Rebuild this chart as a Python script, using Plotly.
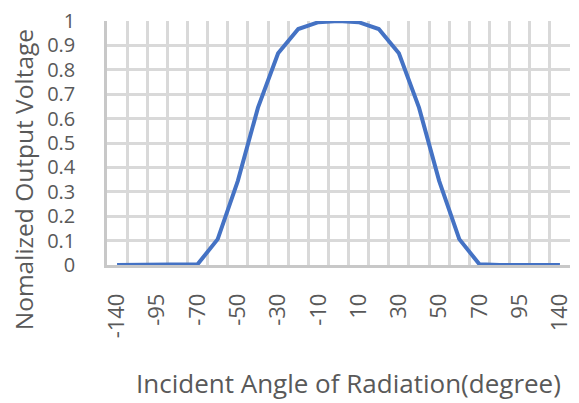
import plotly.graph_objects as go

angles = [-140, -120, -95, -80, -70, -60, -50, -40, -30, -20, -10, 0,
          10, 20, 30, 40, 50, 60, 70, 80, 95, 120, 140]
voltage = [0.0, 0.0, 0.0, 0.0, 0.003, 0.106, 0.345, 0.645, 0.868, 0.967, 0.995, 1.0,
           0.995, 0.967, 0.868, 0.645, 0.345, 0.106, 0.003, 0.0, 0.0, 0.0, 0.0]
label_step = 2
y_ticks = [0, 0.1, 0.2, 0.3, 0.4, 0.5, 0.6, 0.7, 0.8, 0.9, 1]
y_tick_text = ["0", "0.1", "0.2", "0.3", "0.4", "0.5", "0.6", "0.7", "0.8", "0.9", "1"]
x_title = "Incident Angle of Radiation(degree)"
y_title = "Nomalized Output Voltage"

idx = list(range(len(angles)))
n = len(angles)

FONT = "Open Sans"
TXT = "#595959"
GRID = "#d9d9d9"

fig = go.Figure()
fig.add_trace(go.Scatter(
    x=idx, y=voltage, mode="lines",
    line=dict(color="#4472C4", width=4),
    showlegend=False,
))

fig.add_annotation(
    text=y_title, xref="paper", yref="paper",
    x=-0.18, y=0.35, xanchor="center", yanchor="middle",
    textangle=-90, showarrow=False,
    font=dict(family=FONT, size=24.5, color=TXT),
)
fig.add_annotation(
    text=x_title, xref="paper", yref="paper",
    x=0.522, y=-0.485, xanchor="center", yanchor="middle",
    showarrow=False,
    font=dict(family=FONT, size=26, color=TXT),
)

fig.update_layout(
    width=571, height=395,
    margin=dict(l=99, r=9, t=13, b=138, autoexpand=False),
    paper_bgcolor="white", plot_bgcolor="white",
    font=dict(family=FONT, color=TXT),
    xaxis=dict(
        range=[-0.5, n - 0.5],
        tickmode="array",
        tickvals=idx[::label_step],
        ticktext=[str(a) for a in angles[::label_step]],
        tickangle=-90,
        tickfont=dict(size=22, color=TXT),
        showgrid=False,
        zeroline=False,
        showline=True, linecolor="#c8c8c8", linewidth=2.5,
        ticks="outside", ticklen=17, tickcolor="rgba(0,0,0,0)",
        minor=dict(tickmode="array", tickvals=[i - 0.5 for i in range(n + 1)],
                   showgrid=True, gridcolor=GRID, gridwidth=2.5),
        automargin=False,
        fixedrange=True,
    ),
    yaxis=dict(
        range=[0, 1],
        tickmode="array",
        tickvals=y_ticks,
        ticktext=y_tick_text,
        tickfont=dict(size=20, color=TXT),
        ticklabeloverflow="allow",
        showgrid=True, gridcolor=GRID, gridwidth=2.5,
        zeroline=False,
        showline=True, linecolor="#c8c8c8", linewidth=2.5,
        ticks="outside", ticklen=25, tickcolor="rgba(0,0,0,0)",
        automargin=False,
        fixedrange=True,
    ),
)

fig.write_html("out.html")
